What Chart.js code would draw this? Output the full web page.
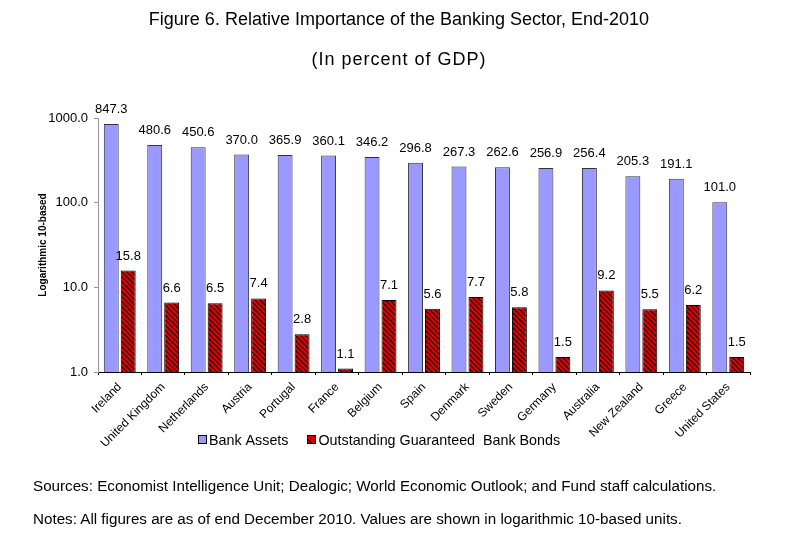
<!DOCTYPE html>
<html>
<head>
<meta charset="utf-8">
<script src="https://cdn.jsdelivr.net/npm/chart.js@4/dist/chart.umd.min.js"></script>
<style>
  body { margin: 0; background: #fff; font-family: "Liberation Sans", Arial, sans-serif; }
  #wrap { position: relative; width: 798px; height: 543px; }
  #chart { position: absolute; left: 0; top: 0; }
  .txt { position: absolute; color: #000; white-space: nowrap; }
  #title { top: 9px; left: 0; width: 798px; text-align: center; font-size: 18px; }
  #subtitle { top: 49px; left: 0; width: 798px; text-align: center; font-size: 18px; letter-spacing: 1px; }
  #sources { top: 477px; left: 33px; font-size: 15.2px; }
  #notes { top: 510px; left: 33px; font-size: 15.2px; }
  #legend { top: 431px; left: 198px; font-size: 14.3px; }
  #legend span { display: inline-block; vertical-align: middle; }
  .sw { width: 7px; height: 7px; border: 1px solid #000; margin-right: 2px; margin-top: -2px; }
  .sw.blue { background: #9999ff; }
  .sw.red { background: repeating-linear-gradient(45deg, #e00000 0 2px, #000 2px 3px); margin-left: 19px; }
</style>
</head>
<body>
<div id="wrap">
  <canvas id="chart" width="798" height="543"></canvas>
  <div class="txt" id="title">Figure 6. Relative Importance of the Banking Sector, End-2010</div>
  <div class="txt" id="subtitle">(In percent of GDP)</div>
  <div class="txt" id="legend"></div>
  <div class="txt" id="sources">Sources: Economist Intelligence Unit; Dealogic; World Economic Outlook; and Fund staff calculations.</div>
  <div class="txt" id="notes">Notes: All figures are as of end December 2010. Values are shown in logarithmic 10-based units.</div>
</div>
<script>
const countries = ["Ireland", "United Kingdom", "Netherlands", "Austria", "Portugal", "France", "Belgium",
  "Spain", "Denmark", "Sweden", "Germany", "Australia", "New Zealand", "Greece", "United States"];
const bankAssets = [847.3, 480.6, 450.6, 370.0, 365.9, 360.1, 346.2, 296.8, 267.3, 262.6, 256.9, 256.4, 205.3, 191.1, 101.0];
const guaranteedBonds = [15.8, 6.6, 6.5, 7.4, 2.8, 1.1, 7.1, 5.6, 7.7, 5.8, 1.5, 9.2, 5.5, 6.2, 1.5];
const seriesNames = ["Bank Assets", "Outstanding Guaranteed  Bank Bonds"];
const yTicks = [1, 10, 100, 1000];

const FONT = "'Liberation Sans', Arial, sans-serif";

// red with black diagonal stripes
function hatch(){
  const c = document.createElement("canvas");
  c.width = 5; c.height = 5;
  const g = c.getContext("2d");
  g.fillStyle = "#e00000";
  g.fillRect(0, 0, 5, 5);
  g.strokeStyle = "#000";
  g.lineWidth = 1.2;
  g.beginPath();
  g.moveTo(-1, -1); g.lineTo(6, 6);
  g.moveTo(-1, 4); g.lineTo(1, 6);
  g.moveTo(4, -1); g.lineTo(6, 1);
  g.stroke();
  return g.createPattern(c, "repeat");
}

const valueLabels = {
  id: "valueLabels",
  afterDatasetsDraw(chart){
    const ctx = chart.ctx;
    ctx.save();
    ctx.font = "13px " + FONT;
    ctx.fillStyle = "#000";
    ctx.textAlign = "center";
    ctx.textBaseline = "bottom";
    chart.data.datasets.forEach((ds, i) => {
      chart.getDatasetMeta(i).data.forEach((bar, j) => {
        ctx.fillText(ds.data[j].toFixed(1), bar.x, bar.y - 8);
      });
    });
    ctx.restore();
  }
};

const ctx = document.getElementById("chart").getContext("2d");
const chart = new Chart(ctx, {
  type: "bar",
  data: {
    labels: countries,
    datasets: [
      { label: seriesNames[0], data: bankAssets, backgroundColor: "#9999ff", borderColor: "#333", borderWidth: 1 },
      { label: seriesNames[1], data: guaranteedBonds, backgroundColor: hatch(), borderColor: "#000", borderWidth: 1 }
    ]
  },
  options: {
    responsive: false,
    animation: false,
    categoryPercentage: 0.78,
    barPercentage: 0.88,
    layout: { padding: { top: 118, left: 37, right: 48, bottom: 81 } },
    plugins: {
      legend: { display: false },
      tooltip: { enabled: false },
      title: { display: false }
    },
    scales: {
      x: {
        grid: { drawOnChartArea: false, drawTicks: true, tickLength: 3, color: "#000", offset: true },
        border: { color: "#000" },
        ticks: { maxRotation: 45, minRotation: 45, color: "#000", font: { size: 12, family: FONT }, padding: 5 },
        afterFit(scale){ scale.height = 90; }
      },
      y: {
        type: "logarithmic",
        min: 1, max: 1000,
        afterBuildTicks(scale){ scale.ticks = yTicks.map(v => ({ value: v })); },
        grid: { drawOnChartArea: false, drawTicks: true, tickLength: 4, color: "#999" },
        border: { color: "#999" },
        ticks: { color: "#000", font: { size: 13, family: FONT }, padding: 6, callback: v => Number(v).toFixed(1) },
        title: { display: true, text: "Logarithmic 10-based", color: "#000", font: { size: 10, weight: "bold", family: FONT }, padding: 0 },
        afterFit(scale){ scale.width = 61; }
      }
    }
  },
  plugins: [valueLabels]
});

// legend built from the chart's datasets
document.getElementById("legend").innerHTML = chart.data.datasets.map((ds, i) =>
  `<span class="sw ${i === 0 ? "blue" : "red"}"></span><span>${ds.label.replace(/ /g, "&nbsp;")}</span>`
).join("");
</script>
</body>
</html>
